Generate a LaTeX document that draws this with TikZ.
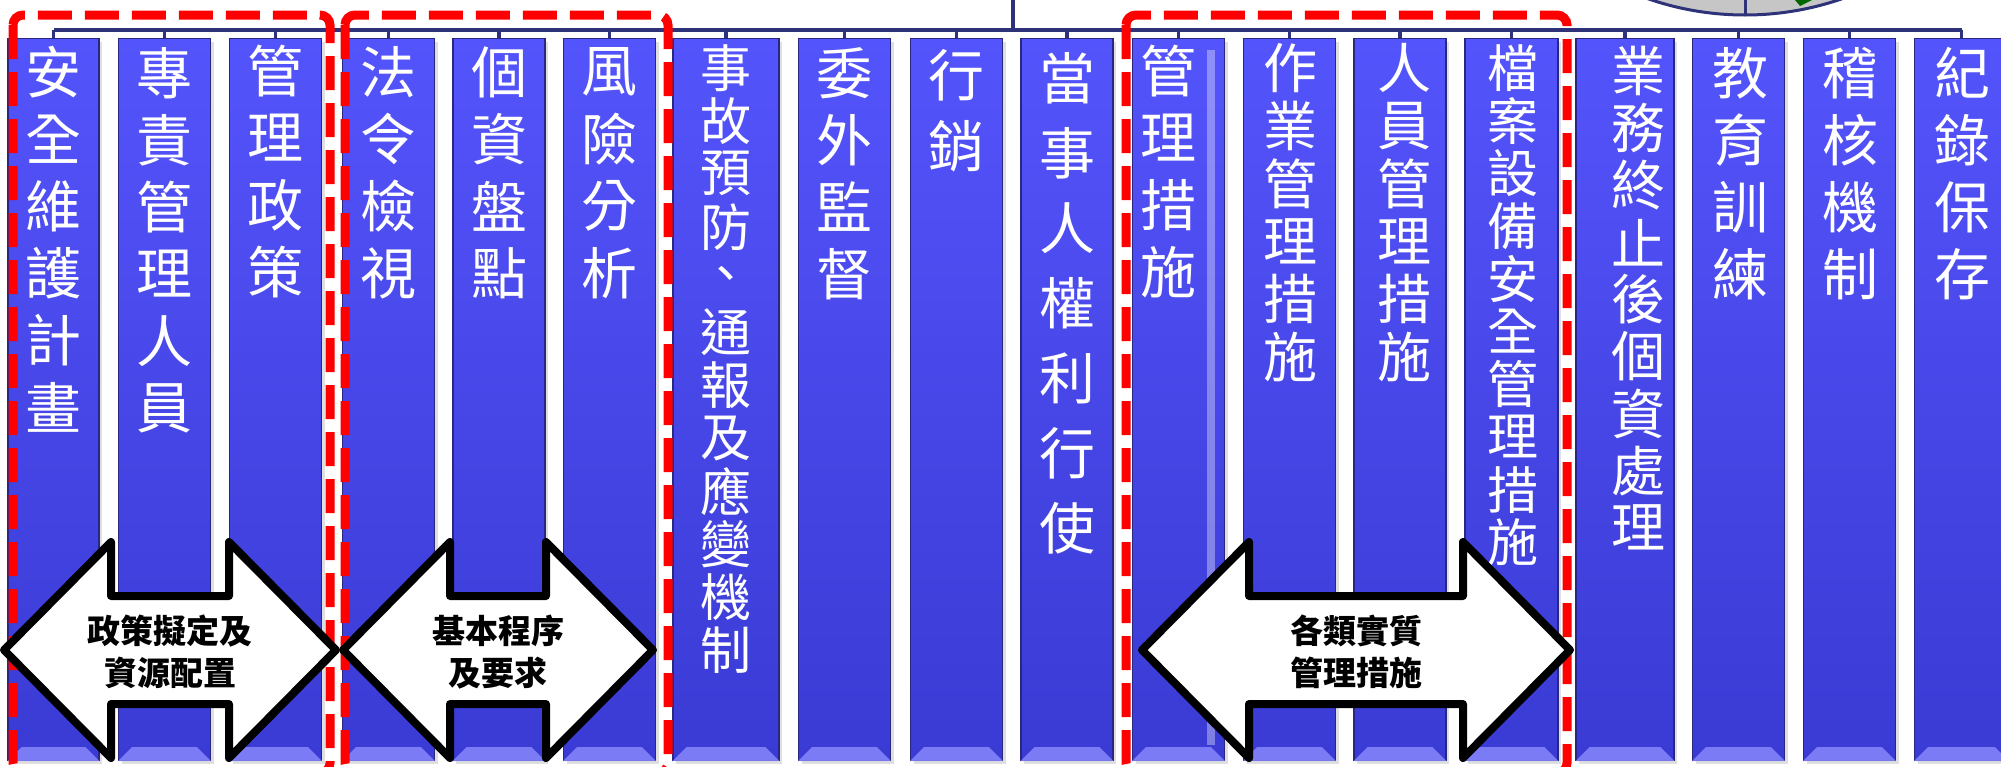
\documentclass[tikz,border=0pt]{standalone}
\usepackage{fontspec}
\newfontfamily\cjk{Noto Sans CJK TC}
\usetikzlibrary{positioning,shadows}
\definecolor{barblue}{RGB}{46,50,120}
\definecolor{boxtop}{RGB}{84,84,252}
\definecolor{boxbot}{RGB}{58,58,212}
\definecolor{boxedge}{RGB}{40,40,130}
\definecolor{bevel}{RGB}{140,140,255}
\definecolor{dashred}{RGB}{255,0,0}
\tikzset{item/.style = {rectangle, draw=boxedge, line width=0.6pt, top color=boxtop, bottom color=boxbot,
                        minimum height=361pt, inner sep=0pt, anchor=north,
                        drop shadow={opacity=0.25, shadow xshift=1.5pt, shadow yshift=-1.5pt}},
         itemtext/.style = {text=white, inner sep=0pt},
         link/.style = {draw=barblue, line width=2.4pt},
         group/.style = {draw=dashred, line width=4.5pt, dash pattern=on 17pt off 6.5pt, rounded corners=5pt},
         bigarrow/.style = {draw=black, line width=4pt, fill=white, line join=round},
         arrowtext/.style = {align=center, inner sep=0pt, font=\cjk\bfseries\fontsize{16.5}{21}\selectfont}}

\begin{document}
\begin{tikzpicture}[x=0.5pt, y=-0.5pt]
    \useasboundingbox (0,0) rectangle (2001,766);

    % picture cut off at the top right
    \draw[draw=barblue, line width=1.5pt, top color=gray!20, bottom color=gray!45] (1745,-281) circle (296);
    \draw[barblue, line width=1.5pt] (1745,-10) -- (1745,14);
    \fill[green!40!black] (1795,0) -- (1812,0) -- (1800,6) -- cycle;

    % boxes: number / x / width(pt) / text x / first char y / pitch / font size / text
    \foreach \k/\x/\w/\tx/\y/\p/\fs/\txt in {
        1/53.5/45.5/53.5/72/67/28/{安,全,維,護,計,畫},
        2/164.5/46/164.5/73/67/28/{專,責,管,理,人,員},
        3/275.5/46/275.5/71/67/28/{管,理,政,策},
        4/388.5/46/388.5/72/67/28/{法,令,檢,視},
        5/499/46/499/72/67/28/{個,資,盤,點},
        6/609.5/46/609.5/72/67/28/{風,險,分,析},
        7/726/53/726/68/52.9/25.5/{事,故,預,防,、,通,報,及,應,變,機,制},
        8/844.5/46/844.5/73/67/28/{委,外,監,督},
        9/956.5/46/956.5/75/71/28/{行,銷},
        10/1067/46/1067/78/75/28/{當,事,人,權,利,行,使},
        11/1178.5/46/1168/71/67/28/{管,理,措,施},
        12/1289.5/46/1290/68/57.8/27/{作,業,管,理,措,施},
        13/1400/46/1404/68/57.8/27/{人,員,管,理,措,施},
        14/1511.5/46.5/1513/68/52.7/25.5/{檔,案,設,備,安,全,管,理,措,施},
        15/1625/49/1638/71/57.1/27/{業,務,終,止,後,個,資,處,理},
        16/1738.5/46/1740/73/67/28/{教,育,訓,練},
        17/1849.5/46/1850/73/67/28/{稽,核,機,制},
        18/1961.5/47/1962/73/67/28/{紀,錄,保,存}} {
        \node[item, minimum width=\w pt] (b\k) at (\x,38) {};
        \fill[bevel, opacity=0.8] (b\k.south west) -- (b\k.south east)
            -- ([xshift=-7pt, yshift=7pt]b\k.south east) -- ([xshift=7pt, yshift=7pt]b\k.south west) -- cycle;
        \foreach \ch [count=\i] in \txt
            \node[itemtext, font=\cjk\fontsize{\fs}{\fs}\selectfont] (t\k-\i) at (\tx, {\y+(\i-1)*\p}) {\ch};
    }
    % highlight on the selected box
    \fill[white, opacity=0.35] ([xshift=-9pt, yshift=-6pt]b11.north east) rectangle ([xshift=-5pt, yshift=8pt]b11.south east);

    % connectors
    \coordinate (top) at (1013,0);
    \coordinate (hub) at (1013,30);
    \draw[link] (top) -- (hub);
    \draw[link] (b1.north |- hub) -- (b18.north |- hub);
    \foreach \k in {1,...,18}
        \draw[link, line width=1.8pt] (b\k.north |- hub) -- (b\k.north);

    % dashed groups
    \draw[group] (13,15) rectangle (330,773);
    \draw[group] (345,15) rectangle (668,773);
    \draw[group] (1126,15) rectangle (1567,773);

    % double arrows
    \foreach \l/\r/\lab [count=\a] in {4/336/{政策擬定及\\資源配置}, 343/653/{基本程序\\及要求}, 1142/1570/{各類實質\\管理措施}} {
        \draw[bigarrow] (\l,650) -- ({\l+107},542) -- ({\l+107},596) -- ({\r-107},596) -- ({\r-107},542)
            -- (\r,650) -- ({\r-107},758) -- ({\r-107},704) -- ({\l+107},704) -- ({\l+107},758) -- cycle;
        \node[arrowtext] (lab\a) at ({(\l+\r)/2},652) {\lab};
    }
\end{tikzpicture}
\end{document}
